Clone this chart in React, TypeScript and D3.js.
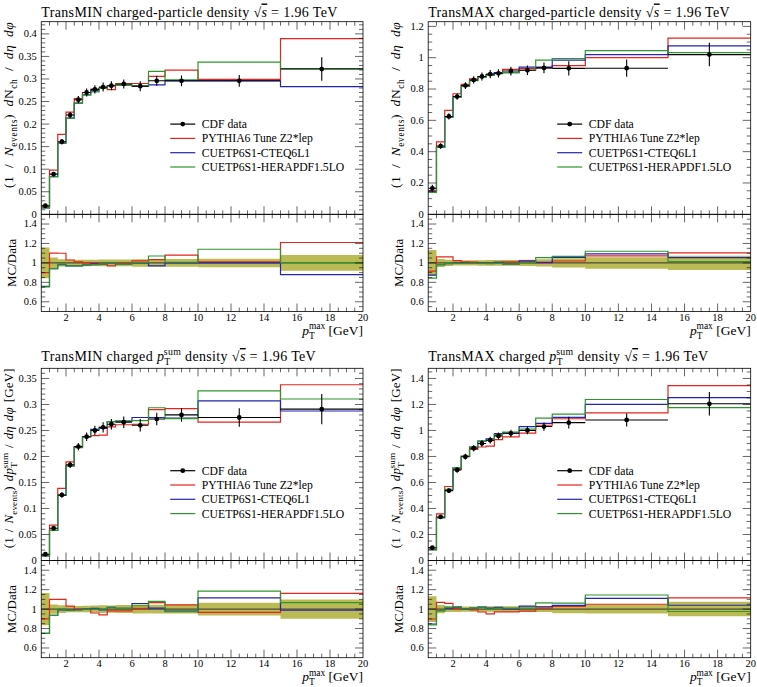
import React from "react";
import * as d3 from "d3";

// ---------- data ----------
const X_EDGES = [0.5, 1, 1.5, 2, 2.5, 3, 3.5, 4, 4.5, 5, 6, 7, 8, 10, 15, 20];
const LEGEND_LABELS = ["CDF data", "PYTHIA6 Tune Z2*lep", "CUETP6S1-CTEQ6L1", "CUETP6S1-HERAPDF1.5LO"];

// TransMIN charged-particle density
const minNchData = [0.019, 0.089, 0.161, 0.22, 0.254, 0.27, 0.277, 0.282, 0.285, 0.289, 0.284, 0.296, 0.296, 0.296, 0.322];
const minNchErr = [0.003, 0.005, 0.006, 0.007, 0.008, 0.009, 0.009, 0.01, 0.01, 0.01, 0.011, 0.011, 0.012, 0.013, 0.026];
const minNchZ2 = [0.0171, 0.0979, 0.177, 0.2266, 0.2565, 0.27, 0.277, 0.279, 0.2765, 0.289, 0.29, 0.306, 0.3197, 0.299, 0.3896];
const minNchCteq = [0.0144, 0.0837, 0.158, 0.2134, 0.2464, 0.2646, 0.274, 0.279, 0.285, 0.286, 0.284, 0.287, 0.296, 0.296, 0.283];
const minNchHera = [0.0143, 0.0837, 0.159, 0.2134, 0.2464, 0.2646, 0.2715, 0.279, 0.285, 0.286, 0.285, 0.317, 0.298, 0.3375, 0.323];

// TransMAX charged-particle density
const maxNchData = [0.166, 0.436, 0.625, 0.752, 0.822, 0.858, 0.88, 0.895, 0.9, 0.915, 0.92, 0.935, 0.932, 0.933, 1.02];
const maxNchErr = [0.022, 0.018, 0.02, 0.02, 0.022, 0.023, 0.025, 0.026, 0.027, 0.028, 0.03, 0.035, 0.045, 0.055, 0.075];
const maxNchZ2 = [0.152, 0.463, 0.664, 0.77, 0.83, 0.865, 0.88, 0.89, 0.905, 0.925, 0.93, 0.935, 0.95, 1.0, 1.125];
const maxNchCteq = [0.145, 0.428, 0.62, 0.75, 0.82, 0.855, 0.878, 0.89, 0.905, 0.905, 0.94, 0.94, 0.985, 1.02, 1.075];
const maxNchHera = [0.14, 0.428, 0.622, 0.748, 0.818, 0.853, 0.875, 0.888, 0.898, 0.905, 0.92, 0.985, 0.995, 1.045, 1.033];

// TransMIN charged pTsum density
const minPtData = [0.012, 0.062, 0.126, 0.184, 0.219, 0.238, 0.25, 0.256, 0.262, 0.266, 0.26, 0.272, 0.28, 0.275, 0.291];
const minPtErr = [0.002, 0.003, 0.005, 0.006, 0.007, 0.008, 0.009, 0.01, 0.01, 0.011, 0.012, 0.012, 0.013, 0.018, 0.029];
const minPtZ2 = [0.0108, 0.0682, 0.1386, 0.1895, 0.219, 0.238, 0.24, 0.241, 0.257, 0.261, 0.262, 0.29, 0.292, 0.266, 0.338];
const minPtCteq = [0.009, 0.058, 0.125, 0.182, 0.218, 0.238, 0.252, 0.254, 0.267, 0.268, 0.275, 0.275, 0.274, 0.307, 0.2875];
const minPtHera = [0.009, 0.058, 0.126, 0.182, 0.217, 0.238, 0.25, 0.256, 0.267, 0.268, 0.269, 0.2937, 0.273, 0.326, 0.3106];

// TransMAX charged pTsum density
const maxPtData = [0.098, 0.335, 0.537, 0.696, 0.798, 0.863, 0.9, 0.925, 0.958, 0.978, 1.0, 1.03, 1.06, 1.081, 1.205];
const maxPtErr = [0.013, 0.014, 0.016, 0.02, 0.022, 0.024, 0.025, 0.026, 0.027, 0.028, 0.03, 0.032, 0.045, 0.05, 0.09];
const maxPtZ2 = [0.088, 0.358, 0.569, 0.7, 0.8, 0.855, 0.873, 0.88, 0.93, 0.95, 0.98, 1.04, 1.09, 1.135, 1.345];
const maxPtCteq = [0.083, 0.33, 0.542, 0.71, 0.8, 0.872, 0.918, 0.935, 0.975, 0.98, 1.03, 1.055, 1.1, 1.2, 1.253];
const maxPtHera = [0.082, 0.33, 0.548, 0.712, 0.8, 0.872, 0.918, 0.925, 0.968, 0.988, 1.01, 1.095, 1.125, 1.238, 1.175];

const X_TICK_LABELS = [2, 4, 6, 8, 10, 12, 14, 16, 18, 20];
const RATIO_TICK_LABELS = [0.6, 0.8, 1, 1.2, 1.4];

// ---------- style ----------
const FONT = "'Liberation Serif', 'Times New Roman', serif";
const RED = "#e8241f";
const BLUE = "#2424b4";
const GREEN = "#2f962f";
const BAND = "#bbbb55";

type PanelDef = {
  id: string;
  kind: "MIN" | "MAX";
  pt: boolean;
  left: number;
  right: number;
  top: number;
  zero: number;
  bottom: number;
  yTop: number;
  yMajor: number;
  yMinor: number;
  data: number[];
  err: number[];
  mc: number[][];
  titleY: number;
};

const PANELS: PanelDef[] = [
  { id: "p1", kind: "MIN", pt: false, left: 41.25, right: 363, top: 21.7, zero: 214.3, bottom: 311.5, yTop: 0.427, yMajor: 0.05, yMinor: 0.01, data: minNchData, err: minNchErr, mc: [minNchZ2, minNchCteq, minNchHera], titleY: 16.5 },
  { id: "p2", kind: "MAX", pt: false, left: 428.2, right: 750.7, top: 21.7, zero: 214.3, bottom: 311.5, yTop: 1.23, yMajor: 0.2, yMinor: 0.05, data: maxNchData, err: maxNchErr, mc: [maxNchZ2, maxNchCteq, maxNchHera], titleY: 16.5 },
  { id: "p3", kind: "MIN", pt: true, left: 41.25, right: 363, top: 368.3, zero: 560.5, bottom: 657.7, yTop: 0.3696, yMajor: 0.05, yMinor: 0.01, data: minPtData, err: minPtErr, mc: [minPtZ2, minPtCteq, minPtHera], titleY: 361 },
  { id: "p4", kind: "MAX", pt: true, left: 428.2, right: 750.7, top: 368.3, zero: 560.5, bottom: 657.7, yTop: 1.478, yMajor: 0.2, yMinor: 0.05, data: maxPtData, err: maxPtErr, mc: [maxPtZ2, maxPtCteq, maxPtHera], titleY: 361 },
];

const MC_COLORS = [RED, BLUE, GREEN];

function range(lo: number, hi: number, step: number): number[] {
  const out: number[] = [];
  const n0 = Math.ceil(lo / step - 1e-6);
  for (let i = n0; i * step <= hi + 1e-9; i++) out.push(+(i * step).toFixed(6));
  return out;
}
function isMultiple(v: number, step: number) {
  const q = v / step;
  return Math.abs(q - Math.round(q)) < 1e-6;
}
function fmt(v: number) {
  return String(+v.toFixed(3));
}

function Sqrt() {
  return (
    <>
      <tspan> </tspan>
      <tspan>√</tspan>
      <tspan fontStyle="italic" style={{ textDecoration: "overline" }}>s</tspan>
      <tspan> = 1.96 TeV</tspan>
    </>
  );
}

function PtSum({ fs, sup }: { fs: number; sup: string }) {
  const s = fs * 0.7;
  return (
    <>
      <tspan fontStyle="italic">p</tspan>
      <tspan fontSize={s} dy={fs * 0.28}>T</tspan>
      <tspan fontSize={s} dx={-s * 0.62} dy={-fs * 0.68}>{sup}</tspan>
      <tspan dy={fs * 0.4}> </tspan>
    </>
  );
}

function Panel({ p }: { p: PanelDef }) {
  const x = d3.scaleLinear().domain([0.5, 20]).range([p.left, p.right]);
  const y = d3.scaleLinear().domain([0, p.yTop]).range([p.zero, p.top]);
  const r = d3.scaleLinear().domain([0.5, 1.5]).range([p.bottom, p.zero]);
  const line = d3.line<[number, number]>();

  const stepPts = (vals: number[], sc: (v: number) => number): [number, number][] => {
    const pts: [number, number][] = [];
    vals.forEach((v, i) => {
      pts.push([x(X_EDGES[i]), sc(v)]);
      pts.push([x(X_EDGES[i + 1]), sc(v)]);
    });
    return pts;
  };

  const bandArea = d3
    .area<{ x: number; lo: number; hi: number }>()
    .x((d) => d.x)
    .y0((d) => r(d.lo))
    .y1((d) => r(d.hi));
  const bandPts: { x: number; lo: number; hi: number }[] = [];
  p.data.forEach((d, i) => {
    const rel = p.err[i] / d;
    bandPts.push({ x: x(X_EDGES[i]), lo: 1 - rel, hi: 1 + rel });
    bandPts.push({ x: x(X_EDGES[i + 1]), lo: 1 - rel, hi: 1 + rel });
  });

  const major = 8;
  const minor = 4;
  const xMajor = range(2, 20, 2);
  const xMinor = range(0.5, 20, 0.5).filter((v) => !isMultiple(v, 2) && v > 0.5 && v < 20);
  const yMaj = range(0, p.yTop, p.yMajor);
  const yMin = range(0, p.yTop, p.yMinor).filter((v) => !isMultiple(v, p.yMajor));
  const rMaj = range(0.6, 1.4, 0.2);
  const rMin = range(0.5, 1.5, 0.05).filter((v) => !isMultiple(v, 0.2) && v > 0.5 && v < 1.5);

  const tk = { stroke: "#000", strokeWidth: 0.6 };
  const ticks: JSX.Element[] = [];
  const hEdges: [number, number][] = [
    [p.top, 1],
    [p.zero, -1],
    [p.zero, 1],
    [p.bottom, -1],
  ];
  hEdges.forEach(([ey, dir], k) => {
    xMajor.forEach((v) => {
      if (v >= 20) return;
      ticks.push(<line key={`xM${k}-${v}`} x1={x(v)} x2={x(v)} y1={ey} y2={ey + dir * major} {...tk} />);
    });
    xMinor.forEach((v) => {
      ticks.push(<line key={`xm${k}-${v}`} x1={x(v)} x2={x(v)} y1={ey} y2={ey + dir * minor} {...tk} />);
    });
  });
  [[p.left, 1], [p.right, -1]].forEach(([ex, dir], k) => {
    yMaj.forEach((v) => {
      if (v <= 0) return;
      ticks.push(<line key={`yM${k}-${v}`} x1={ex} x2={ex + dir * major} y1={y(v)} y2={y(v)} {...tk} />);
    });
    yMin.forEach((v) => {
      ticks.push(<line key={`ym${k}-${v}`} x1={ex} x2={ex + dir * minor} y1={y(v)} y2={y(v)} {...tk} />);
    });
    rMaj.forEach((v) => {
      ticks.push(<line key={`rM${k}-${v}`} x1={ex} x2={ex + dir * major} y1={r(v)} y2={r(v)} {...tk} />);
    });
    rMin.forEach((v) => {
      ticks.push(<line key={`rm${k}-${v}`} x1={ex} x2={ex + dir * minor} y1={r(v)} y2={r(v)} {...tk} />);
    });
  });

  const fsTitle = 14;
  const fsLab = p.pt ? 13 : 13.5;
  const fsTick = 10.5;
  const fsLeg = 11.7;
  const centers = p.data.map((_, i) => (X_EDGES[i] + X_EDGES[i + 1]) / 2);

  const legX = p.left + 129;
  const legY = [102.4, 116.7, 131, 145.3].map((o) => p.top + o);

  return (
    <g fontFamily={FONT} style={{ fontFamily: FONT }}>
      <defs>
        <clipPath id={`main-${p.id}`}>
          <rect x={p.left} y={p.top} width={p.right - p.left} height={p.zero - p.top} />
        </clipPath>
        <clipPath id={`ratio-${p.id}`}>
          <rect x={p.left} y={p.zero} width={p.right - p.left} height={p.bottom - p.zero} />
        </clipPath>
      </defs>

      {/* title */}
      <text x={p.left} y={p.titleY} fontSize={fsTitle} letterSpacing={0.35} fill="#000">
        <tspan>{`Trans${p.kind} charged`}</tspan>
        {p.pt ? (
          <>
            <tspan> </tspan>
            <PtSum fs={fsTitle} sup="sum" />
            <tspan>density</tspan>
          </>
        ) : (
          <tspan>-particle density</tspan>
        )}
        <Sqrt />
      </text>

      {/* ratio */}
      <g clipPath={`url(#ratio-${p.id})`}>
        <path d={bandArea(bandPts) || ""} fill={BAND} stroke="none" />
        <line x1={p.left} x2={p.right} y1={r(1)} y2={r(1)} stroke="#333" strokeWidth={1} />
        {p.mc.map((s, k) => (
          <path
            key={k}
            d={line(stepPts(s.map((v, i) => v / p.data[i]), r)) || ""}
            fill="none"
            stroke={MC_COLORS[k]}
            strokeWidth={1.2}
          />
        ))}
      </g>

      {/* main */}
      <g clipPath={`url(#main-${p.id})`}>
        {p.mc.map((s, k) => (
          <path key={k} d={line(stepPts(s, y)) || ""} fill="none" stroke={MC_COLORS[k]} strokeWidth={1.2} />
        ))}
        {p.data.map((d, i) => (
          <g key={i}>
            <line x1={x(X_EDGES[i])} x2={x(X_EDGES[i + 1])} y1={y(d)} y2={y(d)} stroke="#000" strokeWidth={1.1} />
            <line x1={x(centers[i])} x2={x(centers[i])} y1={y(d - p.err[i])} y2={y(d + p.err[i])} stroke="#000" strokeWidth={1.1} />
            <circle cx={x(centers[i])} cy={y(d)} r={2.4} fill="#000" />
          </g>
        ))}
      </g>

      {/* frames */}
      <rect x={p.left} y={p.top} width={p.right - p.left} height={p.zero - p.top} fill="none" stroke="#000" strokeWidth={0.8} />
      <rect x={p.left} y={p.zero} width={p.right - p.left} height={p.bottom - p.zero} fill="none" stroke="#000" strokeWidth={0.8} />
      {ticks}

      {/* tick labels */}
      {yMaj.map((v) => (
        <text key={`yl${v}`} x={p.left - 4.5} y={y(v)} dy="0.33em" textAnchor="end" fontSize={fsTick}>
          {fmt(v)}
        </text>
      ))}
      {RATIO_TICK_LABELS.map((v) => (
        <text key={`rl${v}`} x={p.left - 4.5} y={r(v)} dy="0.33em" textAnchor="end" fontSize={fsTick}>
          {fmt(v)}
        </text>
      ))}
      {X_TICK_LABELS.map((v) => (
        <text key={`xl${v}`} x={x(v)} y={p.bottom + 9} textAnchor="middle" fontSize={fsTick}>
          {v}
        </text>
      ))}

      {/* x label */}
      <text x={p.right} y={p.bottom + 23.3} textAnchor="end" fontSize={13.5}>
        <PtSum fs={13.5} sup="max" />
        <tspan>[GeV]</tspan>
      </text>

      {/* y labels */}
      <text
        transform={`translate(${p.left - 28},${p.top}) rotate(-90)`}
        textAnchor="end"
        fontSize={fsLab}
        letterSpacing={p.pt ? 0.15 : 0.6}
        wordSpacing={p.pt ? 1.5 : 3.5}
      >
        <tspan>(1 / </tspan>
        <tspan fontStyle="italic">N</tspan>
        <tspan fontSize={fsLab * 0.7} dy={fsLab * 0.25}>events</tspan>
        <tspan dy={-fsLab * 0.25}>) </tspan>
        <tspan fontStyle="italic">d</tspan>
        {p.pt ? (
          <PtSum fs={fsLab} sup="sum" />
        ) : (
          <>
            <tspan>N</tspan>
            <tspan fontSize={fsLab * 0.7} dy={fsLab * 0.25}>ch</tspan>
            <tspan dy={-fsLab * 0.25}> </tspan>
          </>
        )}
        <tspan>/ </tspan>
        <tspan fontStyle="italic">dη dφ</tspan>
        {p.pt ? <tspan> [GeV]</tspan> : null}
      </text>
      <text
        transform={`translate(${p.left - 25.5},${(p.zero + p.bottom) / 2}) rotate(-90)`}
        textAnchor="middle"
        fontSize={13}
      >
        MC/Data
      </text>

      {/* legend */}
      {LEGEND_LABELS.map((lab, k) => (
        <g key={lab}>
          <line x1={legX} x2={legX + 25} y1={legY[k]} y2={legY[k]} stroke={k === 0 ? "#000" : MC_COLORS[k - 1]} strokeWidth={1.2} />
          {k === 0 ? <circle cx={legX + 12.5} cy={legY[k]} r={2.4} fill="#000" /> : null}
          <text x={legX + 31.5} y={legY[k] + 4} fontSize={fsLeg}>
            {lab}
          </text>
        </g>
      ))}
    </g>
  );
}

export default function App() {
  return (
    <svg
      width={757}
      height={687}
      style={{ position: "absolute", left: 0, top: 0, background: "#fff", fontFamily: FONT }}
    >
      <rect x={0} y={0} width={757} height={687} fill="#fff" />
      {PANELS.map((p) => (
        <Panel key={p.id} p={p} />
      ))}
    </svg>
  );
}
